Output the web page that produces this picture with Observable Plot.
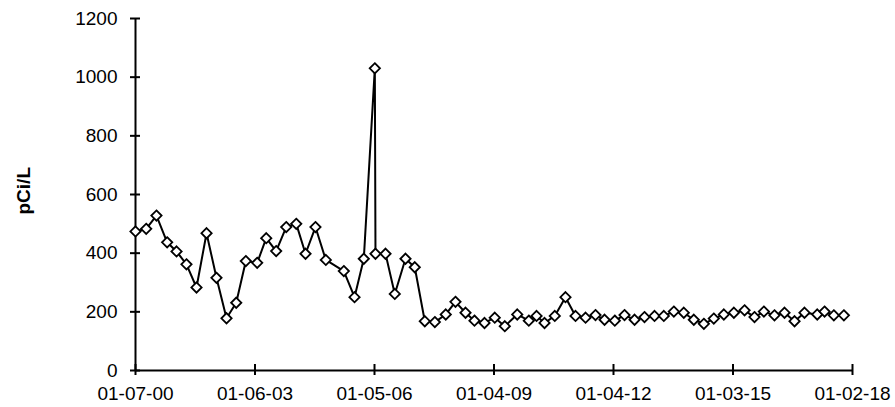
<!DOCTYPE html>
<html>
<head>
<meta charset="utf-8">
<script src="https://cdn.jsdelivr.net/npm/d3@7"></script>
<script src="https://cdn.jsdelivr.net/npm/@observablehq/plot@0.6"></script>
<style>
  html, body { margin: 0; padding: 0; background: #fff; }
  #chart { width: 895px; height: 407px; }
</style>
</head>
<body>
<div id="chart"></div>
<script>
// Sample dates (UTC) and measured concentrations, pCi/L
const sampleDates = [
  "2000-01-07","2000-04-14","2000-07-17","2000-10-23",
  "2001-01-17","2001-04-18","2001-07-19","2001-10-19",
  "2002-01-18","2002-04-20","2002-07-18","2002-10-14",
  "2003-01-26","2003-04-19","2003-07-19","2003-10-19",
  "2004-01-19","2004-04-13","2004-07-13","2004-10-16",
  "2005-03-30","2005-07-06","2005-09-29",
  "2006-01-08","2006-01-14","2006-04-16","2006-07-10","2006-10-16",
  "2007-01-09","2007-04-11","2007-07-12","2007-10-20",
  "2008-01-17","2008-04-18","2008-07-09","2008-10-09",
  "2009-01-11","2009-04-13","2009-08-05","2009-11-19",
  "2010-01-29","2010-04-12","2010-07-15","2010-10-21",
  "2011-01-21","2011-04-23","2011-07-23","2011-10-14",
  "2012-01-16","2012-04-14","2012-07-15","2012-10-14",
  "2013-01-14","2013-04-09","2013-07-10","2013-10-09",
  "2014-01-09","2014-04-11","2014-07-11","2014-10-11",
  "2015-01-11","2015-04-19","2015-07-19","2015-10-13",
  "2016-01-18","2016-04-19","2016-07-20","2016-10-19",
  "2017-02-13","2017-04-21","2017-07-15","2017-10-15"
];

const concentration = [
  474, 483, 528, 437,
  406, 362, 283, 468,
  316, 178, 231, 373,
  367, 451, 407, 489,
  500, 398, 489, 377,
  339, 250, 381,
  1030, 398, 398, 261, 381,
  352, 168, 165, 191,
  234, 197, 170, 162,
  180, 151, 191, 170,
  186, 162, 186, 250,
  186, 180, 189, 173,
  170, 189, 173, 182,
  186, 186, 201, 197,
  173, 159, 177, 191,
  197, 205, 182, 201,
  188, 197, 168, 197,
  191, 201, 188, 188
];

// Axis ticks
const xTickLabels = ["01-07-00","01-06-03","01-05-06","01-04-09","01-04-12","01-03-15","01-02-18"];
const yTickValues = [0, 200, 400, 600, 800, 1000, 1200];

const parseDay = d3.utcParse("%Y-%m-%d");
const parseTick = d3.utcParse("%m-%d-%y");
const formatTick = d3.utcFormat("%m-%d-%y");

const xTicks = xTickLabels.map(parseTick);
const data = sampleDates.map((d, i) => ({date: parseDay(d), value: concentration[i]}));

// Open diamond: a square turned 45°
const openDiamond = {
  draw(context, size) {
    const r = Math.sqrt(size / 2);
    context.moveTo(0, -r);
    context.lineTo(r, 0);
    context.lineTo(0, r);
    context.lineTo(-r, 0);
    context.closePath();
  }
};

const chart = Plot.plot({
  width: 895,
  height: 407,
  marginLeft: 135,
  marginRight: 43,
  marginTop: 18,
  marginBottom: 37,
  style: {fontFamily: "'Liberation Sans', Arial, sans-serif", fontSize: "19px", color: "#000", background: "#fff"},
  x: {type: "utc", domain: [xTicks[0], xTicks[xTicks.length - 1]], label: null},
  y: {domain: [0, 1200], label: null},
  marks: [
    // axis lines
    Plot.ruleX([xTicks[0]], {stroke: "#000", strokeWidth: 2}),
    Plot.ruleY([0], {stroke: "#000", strokeWidth: 2}),
    // cross ticks
    Plot.ruleY(yTickValues, {y: d => d, x1: xTicks[0], x2: xTicks[0], insetLeft: -5, insetRight: -5, stroke: "#000", strokeWidth: 2}),
    Plot.ruleX(xTicks, {x: d => d, y1: 0, y2: 0, insetTop: -6, insetBottom: -5, stroke: "#000", strokeWidth: 2}),
    // tick labels
    Plot.axisY(yTickValues, {tickSize: 0, tickPadding: 18, tickFormat: d => String(d)}),
    Plot.axisX(xTicks, {tickSize: 0, tickPadding: 16, tickFormat: formatTick}),
    // axis title
    Plot.text(["pCi/L"], {frameAnchor: "left", dx: -112, dy: 20, rotate: -90, fontWeight: "bold", fontSize: 19}),
    // series
    Plot.line(data, {x: "date", y: "value", stroke: "#000", strokeWidth: 2}),
    Plot.dot(data, {x: "date", y: "value", symbol: openDiamond, r: 4.1, fill: "#fff", stroke: "#000", strokeWidth: 1.8})
  ]
});

document.getElementById("chart").appendChild(chart);
</script>
</body>
</html>
